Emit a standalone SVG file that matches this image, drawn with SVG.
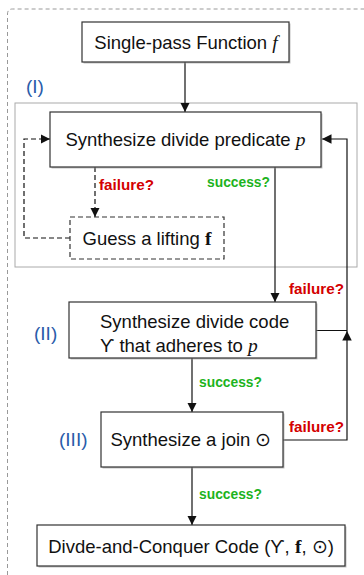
<svg xmlns="http://www.w3.org/2000/svg" width="364" height="575" viewBox="0 0 364 575">
<style>
.box{fill:#fff;stroke:#333;stroke-width:1.2}
.shadow{fill:#999;opacity:0.6}
.t{font-family:"Liberation Sans",Arial,sans-serif;font-size:18.5px;fill:#111}
.m{font-family:"Liberation Serif","Times New Roman",serif;font-style:italic;font-size:19.5px}
.b{font-family:"Liberation Serif","Times New Roman",serif;font-weight:bold;font-size:19.5px}
.lbl{font-family:"Liberation Sans",Arial,sans-serif;font-size:15px;font-weight:bold}
.red{fill:#d40000}
.green{fill:#1db31d}
.blue{font-family:"Liberation Sans",Arial,sans-serif;font-size:19px;fill:#2a5caa}
.ln{fill:none;stroke:#111;stroke-width:1.2}
.dash{stroke-dasharray:5,3}
</style>
<defs>
<marker id="ah" viewBox="0 0 10 10" refX="10" refY="5" markerWidth="9.5" markerHeight="9.5" markerUnits="userSpaceOnUse" orient="auto">
<path d="M0,0 L10,5 L0,10 Z" fill="#111"/>
</marker>
</defs>
<path d="M7.5,575 V14 Q7.5,9 12.5,9 H364" fill="none" stroke="#999" stroke-width="1" stroke-dasharray="4,3"/>
<rect x="15" y="103" width="342" height="164" fill="none" stroke="#aaa" stroke-width="1"/>
<text class="blue" x="26" y="93">(I)</text>
<text class="blue" x="34" y="340">(II)</text>
<text class="blue" x="59" y="446">(III)</text>
<g id="connectors">
<line class="ln" x1="185" y1="62" x2="185" y2="112" marker-end="url(#ah)"/>
<line class="ln dash" x1="95" y1="167" x2="95" y2="217" marker-end="url(#ah)"/>
<polyline class="ln dash" points="70,238 24,238 24,139 50,139" marker-end="url(#ah)"/>
<line class="ln" x1="275" y1="167" x2="275" y2="302" marker-end="url(#ah)"/>
<polyline class="ln" points="316,330.5 347,330.5 347,139 322,139" marker-end="url(#ah)"/>
<polyline class="ln" points="283,440 347,440 347,331" marker-end="url(#ah)"/>
<line class="ln" x1="192" y1="358" x2="192" y2="412" marker-end="url(#ah)"/>
<line class="ln" x1="192" y1="467" x2="192" y2="525" marker-end="url(#ah)"/>
<text class="lbl red" x="99" y="190" textLength="55" lengthAdjust="spacingAndGlyphs">failure?</text>
<text class="lbl green" x="207" y="187" textLength="63" lengthAdjust="spacingAndGlyphs">success?</text>
<text class="lbl red" x="289" y="294" textLength="55" lengthAdjust="spacingAndGlyphs">failure?</text>
<text class="lbl green" x="199" y="387" textLength="63" lengthAdjust="spacingAndGlyphs">success?</text>
<text class="lbl red" x="289" y="432" textLength="55" lengthAdjust="spacingAndGlyphs">failure?</text>
<text class="lbl green" x="199" y="499" textLength="63" lengthAdjust="spacingAndGlyphs">success?</text>
</g>
<g id="n-input">
<rect class="shadow" x="83.5" y="23.5" width="207" height="40"/>
<rect class="box" x="82" y="22" width="207" height="40"/>
<text class="t" x="186" y="48.5" text-anchor="middle">Single-pass Function <tspan class="m">f</tspan></text>
</g>
<g id="n-pred">
<rect class="shadow" x="51.5" y="113.5" width="271" height="55"/>
<rect class="box" x="50" y="112" width="271" height="55"/>
<text class="t" x="185.5" y="146" text-anchor="middle">Synthesize divide predicate <tspan class="m">p</tspan></text>
</g>
<g id="n-guess">
<rect x="70" y="217" width="154" height="42" fill="#fff" stroke="#333" stroke-width="1.2" stroke-dasharray="5,3"/>
<text class="t" x="147" y="244.5" text-anchor="middle">Guess a lifting <tspan class="b">f</tspan></text>
</g>
<g id="n-divide">
<rect class="shadow" x="70.5" y="303.5" width="247" height="56"/>
<rect class="box" x="69" y="302" width="247" height="56"/>
<text class="t" x="100" y="328">Synthesize divide code</text>
<text class="t" x="100" y="352">ϒ that adheres to <tspan class="m">p</tspan></text>
</g>
<g id="n-join">
<rect class="shadow" x="102.5" y="413.5" width="182" height="55"/>
<rect class="box" x="101" y="412" width="182" height="55"/>
<text class="t" x="191" y="446" text-anchor="middle">Synthesize a join ⊙</text>
</g>
<g id="n-output">
<rect class="shadow" x="38.5" y="526.5" width="308" height="41"/>
<rect class="box" x="37" y="525" width="308" height="41"/>
<text class="t" x="191" y="553" text-anchor="middle">Divde-and-Conquer Code (ϒ, <tspan class="b">f</tspan>, ⊙)</text>
</g>
</svg>
